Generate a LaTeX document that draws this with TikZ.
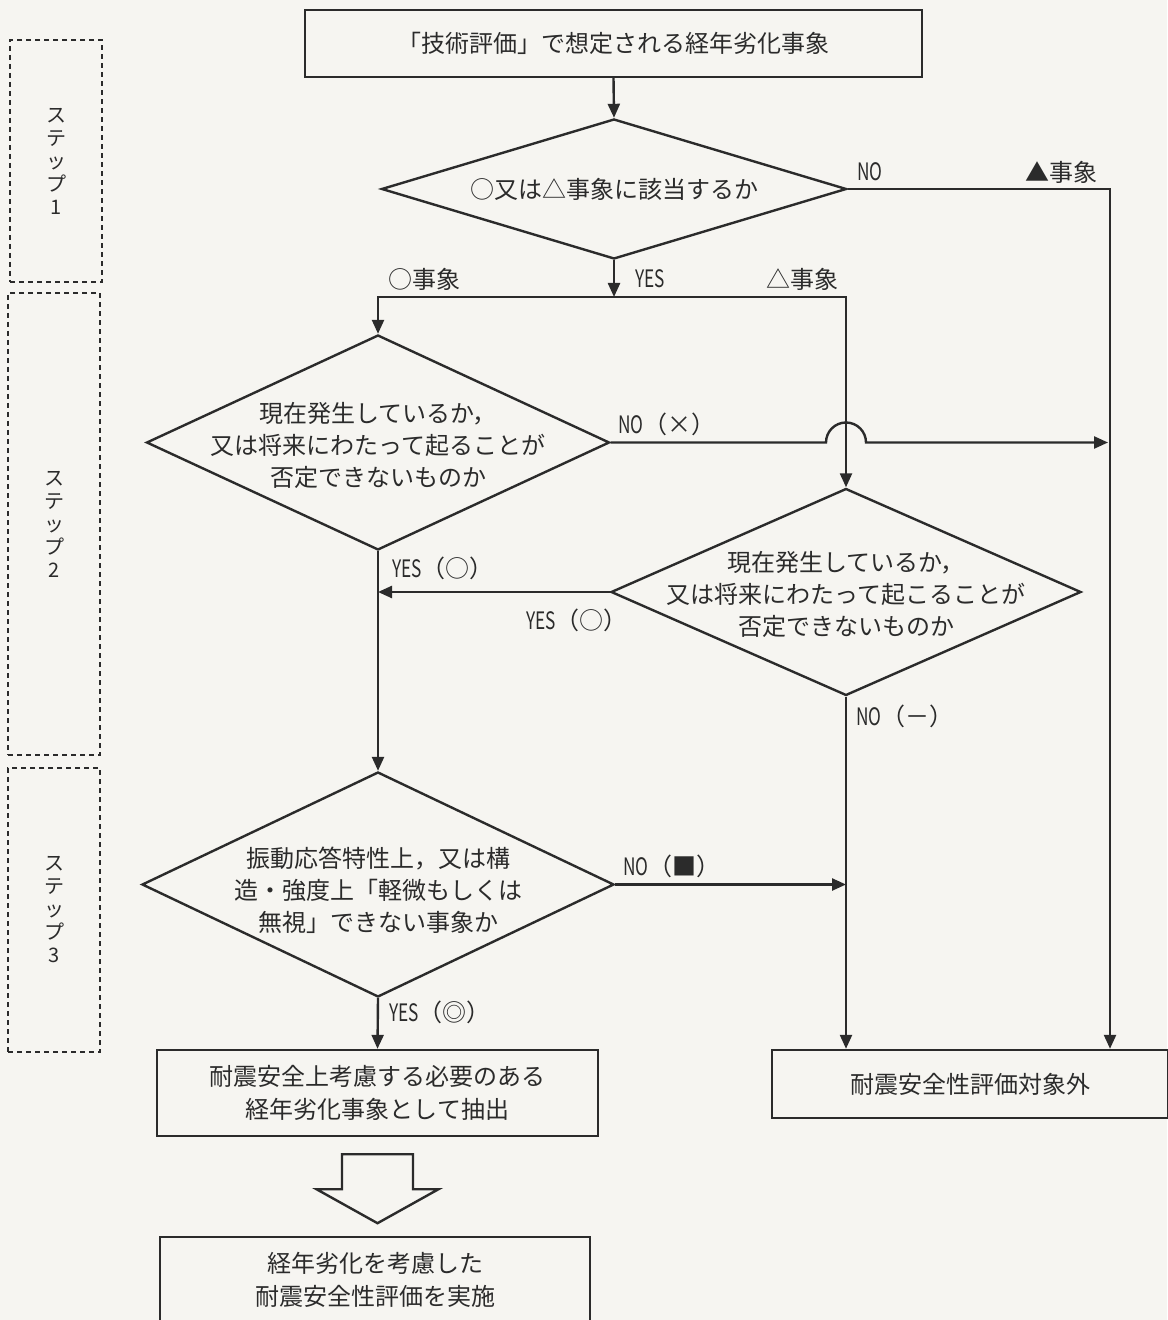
\documentclass[tikz,border=0pt]{standalone}
\usepackage{fontspec}
\setmainfont{Noto Sans CJK JP}
\usepackage{graphicx}
\usetikzlibrary{arrows.meta, shapes.geometric}
\usetikzlibrary{positioning}
\definecolor{paper}{HTML}{F6F5F1}
\definecolor{ink}{HTML}{2B2B2B}
\newcommand{\latin}[1]{\scalebox{0.72}[1]{#1}}
\tikzstyle{process_box} = [
    rectangle,
    draw=ink,
    text=ink,
    line width=1.2pt,
    align=center,
    inner sep=0pt, % size comes from minimum width/height
    font=\fontsize{12}{16.5}\selectfont
]
\tikzstyle{decision_node} = [
    diamond,
    draw=ink,
    line width=1.2pt,
    aspect=1,
    inner sep=0pt
]
\tikzstyle{decision_text} = [
    text=ink,
    align=center,
    inner sep=0pt,
    font=\fontsize{12}{16}\selectfont
]
\tikzstyle{step_box} = [
    rectangle,
    draw=ink,
    text=ink,
    line width=0.8pt,
    dash pattern=on 2.5pt off 2pt,
    align=center,
    inner sep=0pt,
    font=\fontsize{10}{11.5}\selectfont
]
\tikzstyle{branch_label} = [
    text=ink,
    inner sep=0pt,
    font=\fontsize{12}{14}\selectfont
]
\tikzstyle{flow_line} = [draw=ink, line width=1.2pt]
\tikzstyle{flow_arrow} = [flow_line, -{Triangle[length=7pt, width=6pt]}]

\begin{document}
\begin{tikzpicture}[x=0.5pt, y=-0.5pt]
\fill[paper] (0,0) rectangle (1167,1320);
\useasboundingbox (0,0) rectangle (1167,1320);

% steps
\node [step_box, minimum width=46pt, minimum height=121pt] (step1) at (56,161) {ス\\テ\\ッ\\プ\\1};
\node [step_box, minimum width=46pt, minimum height=231pt] (step2) at (54,524) {ス\\テ\\ッ\\プ\\2};
\node [step_box, minimum width=46pt, minimum height=142pt] (step3) at (54,910) {ス\\テ\\ッ\\プ\\3};

% boxes
\node [process_box, minimum width=308.5pt, minimum height=33.5pt] (head) at (613.5,43.5)
    {「技術評価」で想定される経年劣化事象};
\node [process_box, minimum width=220.5pt, minimum height=43pt] (extract) at (377.5,1093)
    {耐震安全上考慮する必要のある\\経年劣化事象として抽出};
\node [process_box, minimum width=215pt, minimum height=43pt] (final) at (375,1280)
    {経年劣化を考慮した\\耐震安全性評価を実施};
\node [process_box, minimum width=198pt, minimum height=34pt] (excl) at (970,1084)
    {耐震安全性評価対象外};

% decisions
\node [decision_node, minimum width=232.5pt, minimum height=70pt] (d1) at (614,189) {};
\node [decision_text] (t1) at (d1.center) {○又は△事象に該当するか};
\node [decision_node, minimum width=231.5pt, minimum height=107.5pt] (d2) at (378,442.5) {};
\node [decision_text] (t2) at (378,445)
    {現在発生しているか，\\又は将来にわたって起ることが\\否定できないものか};
\node [decision_node, minimum width=235pt, minimum height=103.5pt] (d3) at (846,592) {};
\node [decision_text] (t3) at (846,594)
    {現在発生しているか，\\又は将来にわたって起こることが\\否定できないものか};
\node [decision_node, minimum width=236pt, minimum height=112.5pt] (d4) at (378,884.5) {};
\node [decision_text] (t4) at (378,890)
    {振動応答特性上，又は構\\造・強度上「軽微もしくは\\無視」できない事象か};

% connectors
\coordinate (fork) at (614,297);
\coordinate (no_a) at (1110,189);
\coordinate (no_b) at (1108,442.5);
\draw[flow_arrow] (head.south) -- (d1.north);
\draw[flow_arrow] (d1.south) -- (fork);
\draw[flow_arrow] (fork) -| (d2.north);
\draw[flow_arrow] (fork) -| (d3.north);
\draw[flow_arrow] (d1.east) -- (no_a) -- (no_a |- excl.north);
\draw[flow_arrow] (d2.east) -- ([xshift=-10pt]d3.north |- d2.east)
    arc[start angle=180, end angle=0, radius=10pt] -- (no_b);
\draw[flow_arrow] (d2.south) -- (d4.north);
\draw[flow_arrow] (d3.west) -- (d3.west -| d2.south);
\draw[flow_arrow] (d3.south) -- (d3.south |- excl.north);
\draw[flow_arrow] (d4.east) -- (d4.east -| d3.south);
\draw[flow_arrow] (d4.south) -- (extract.north);

% hollow arrow
\coordinate (harrow) at ([yshift=-8.5pt]extract.south);
\draw[ink, line width=1.2pt, fill=paper] (harrow) ++(-35.5,0) -- ++(0,35) -- ++(-25.5,0)
    -- ++(61,34) -- ++(61,-34) -- ++(-25.5,0) -- ++(0,-35) -- cycle;

% labels
\node [branch_label] (l_no1) at (870,172) {\latin{NO}};
\node [branch_label] (l_tri1) at (1061,172) {▲事象};
\node [branch_label] (l_circ) at (424,279) {○事象};
\node [branch_label] (l_yes1) at (650,279) {\latin{YES}};
\node [branch_label] (l_tri2) at (802,279) {△事象};
\node [branch_label] (l_no2) at (667,424) {\latin{NO}（×）};
\node [branch_label] (l_yes2) at (443,568) {\latin{YES}（○）};
\node [branch_label] (l_yes3) at (577,620) {\latin{YES}（○）};
\node [branch_label] (l_no3) at (905,716) {\latin{NO}（－）};
\node [branch_label] (l_no4) at (672,866) {\latin{NO}（■）};
\node [branch_label] (l_yes4) at (440,1012) {\latin{YES}（◎）};
\end{tikzpicture}
\end{document}
